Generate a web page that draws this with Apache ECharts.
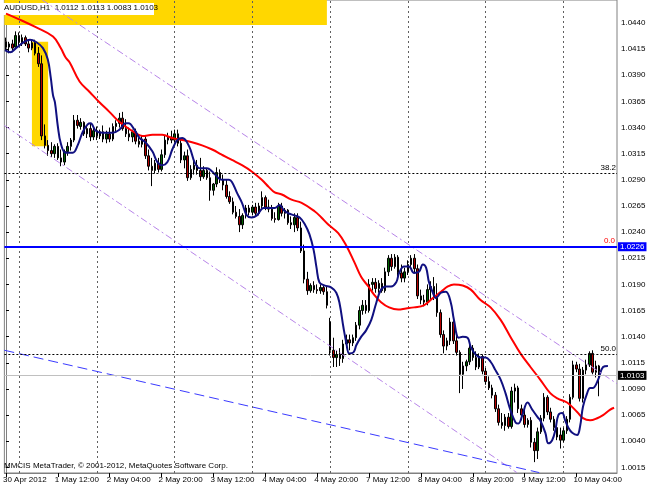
<!DOCTYPE html>
<html><head><meta charset="utf-8">
<script src="https://cdn.jsdelivr.net/npm/echarts@6/dist/echarts.min.js"></script>
<style>html,body{margin:0;padding:0;background:#fff}#c{width:650px;height:488px}</style>
</head><body><div id="c"></div>
<script>
// ---- time axis ----
const days = ['30 Apr','1 May','2 May','3 May','4 May','7 May','8 May','9 May','10 May'];
const dayFirstHour = [20,0,0,0,0,0,0,0,0];
const dayLastHour  = [23,23,23,23,23,23,23,23,16]; // last day includes empty "shift" slots
const timeLabelIdx  = [0,16,32,48,64,80,96,112,128,144,160,176];
const timeLabelText = ['30 Apr 2012','1 May 12:00','2 May 04:00','2 May 20:00','3 May 12:00','4 May 04:00','4 May 20:00','7 May 12:00','8 May 04:00','8 May 20:00','9 May 12:00','10 May 04:00'];
const dayStartIdx = [4,28,52,76,100,124,148,172];
const priceTicks = [1.0015,1.0040,1.0065,1.0090,1.0115,1.0140,1.0165,1.0190,1.0215,1.0240,1.0265,1.0290,1.0315,1.0340,1.0365,1.0390,1.0415,1.0440];
const symbolName = 'AUDUSD,H1';

// ---- candles (H1) ----
const opens = [1.0422,1.0417,1.0420,1.0417,1.0428,1.0421,1.0426,1.0420,1.0416,1.0421,
1.0411,1.0401,1.0332,1.0323,1.0318,1.0315,1.0322,1.0311,1.0307,1.0317,
1.0322,1.0328,1.0347,1.0341,1.0345,1.0334,1.0339,1.0331,1.0337,1.0332,
1.0336,1.0329,1.0334,1.0329,1.0341,1.0344,1.0349,1.0339,1.0334,1.0331,
1.0336,1.0327,1.0324,1.0329,1.0313,1.0303,1.0299,1.0306,1.0300,1.0314,
1.0328,1.0331,1.0328,1.0334,1.0325,1.0309,1.0313,1.0292,1.0300,1.0304,
1.0299,1.0293,1.0299,1.0292,1.0280,1.0286,1.0297,1.0290,1.0285,1.0274,
1.0269,1.0259,1.0255,1.0247,1.0256,1.0263,1.0259,1.0264,1.0258,1.0265,
1.0273,1.0264,1.0262,1.0253,1.0252,1.0265,1.0258,1.0261,1.0249,1.0247,
1.0254,1.0244,1.0222,1.0195,1.0184,1.0189,1.0185,1.0184,1.0187,1.0183,
1.0154,1.0127,1.0120,1.0123,1.0119,1.0133,1.0137,1.0134,1.0139,1.0151,
1.0165,1.0170,1.0165,1.0190,1.0192,1.0186,1.0191,1.0184,1.0202,1.0215,
1.0207,1.0216,1.0201,1.0196,1.0202,1.0209,1.0215,1.0205,1.0179,1.0175,
1.0173,1.0185,1.0188,1.0178,1.0163,1.0142,1.0131,1.0136,1.0154,1.0136,
1.0125,1.0104,1.0112,1.0116,1.0129,1.0120,1.0111,1.0121,1.0107,1.0097,
1.0091,1.0084,1.0071,1.0058,1.0055,1.0063,1.0054,1.0088,1.0091,1.0071,
1.0065,1.0056,1.0060,1.0039,1.0031,1.0049,1.0062,1.0082,1.0068,1.0061,
1.0053,1.0046,1.0041,1.0050,1.0061,1.0082,1.0113,1.0109,1.0081,1.0108,
1.0113,1.0124,1.0106,1.0112];
const closes = [1.0417,1.0420,1.0416,1.0428,1.0422,1.0426,1.0420,1.0416,1.0421,1.0411,
1.0401,1.0332,1.0323,1.0318,1.0315,1.0322,1.0311,1.0307,1.0317,1.0322,
1.0328,1.0347,1.0342,1.0345,1.0334,1.0339,1.0331,1.0337,1.0332,1.0336,
1.0329,1.0334,1.0329,1.0341,1.0344,1.0349,1.0339,1.0334,1.0331,1.0336,
1.0327,1.0324,1.0329,1.0313,1.0303,1.0299,1.0306,1.0300,1.0314,1.0328,
1.0331,1.0328,1.0334,1.0325,1.0309,1.0313,1.0292,1.0300,1.0304,1.0299,
1.0293,1.0299,1.0292,1.0280,1.0286,1.0297,1.0290,1.0285,1.0274,1.0269,
1.0259,1.0255,1.0247,1.0256,1.0263,1.0259,1.0264,1.0258,1.0265,1.0273,
1.0264,1.0262,1.0253,1.0252,1.0265,1.0258,1.0261,1.0249,1.0247,1.0254,
1.0244,1.0222,1.0195,1.0184,1.0189,1.0185,1.0184,1.0187,1.0183,1.0170,
1.0127,1.0120,1.0123,1.0119,1.0133,1.0137,1.0134,1.0139,1.0151,1.0165,
1.0170,1.0165,1.0190,1.0192,1.0186,1.0191,1.0184,1.0202,1.0215,1.0207,
1.0216,1.0201,1.0196,1.0202,1.0209,1.0215,1.0205,1.0179,1.0175,1.0173,
1.0185,1.0188,1.0178,1.0163,1.0142,1.0131,1.0136,1.0154,1.0136,1.0125,
1.0104,1.0112,1.0116,1.0129,1.0120,1.0111,1.0121,1.0107,1.0097,1.0091,
1.0084,1.0071,1.0058,1.0055,1.0063,1.0054,1.0088,1.0091,1.0071,1.0065,
1.0056,1.0060,1.0039,1.0031,1.0049,1.0062,1.0082,1.0068,1.0061,1.0053,
1.0044,1.0041,1.0050,1.0061,1.0082,1.0113,1.0109,1.0081,1.0108,1.0113,
1.0124,1.0106,1.0112,1.0103];
const lows = [1.0414,1.0411,1.0414,1.0415,1.0419,1.0418,1.0418,1.0412,1.0414,1.0409,
1.0398,1.0328,1.0320,1.0313,1.0312,1.0311,1.0309,1.0303,1.0304,1.0313,
1.0318,1.0326,1.0339,1.0338,1.0332,1.0330,1.0327,1.0328,1.0328,1.0329,
1.0326,1.0325,1.0326,1.0327,1.0336,1.0340,1.0337,1.0331,1.0327,1.0326,
1.0324,1.0321,1.0321,1.0310,1.0299,1.0284,1.0296,1.0297,1.0298,1.0311,
1.0324,1.0325,1.0326,1.0322,1.0306,1.0301,1.0289,1.0290,1.0295,1.0295,
1.0289,1.0291,1.0290,1.0270,1.0275,1.0283,1.0287,1.0280,1.0272,1.0267,
1.0257,1.0253,1.0240,1.0243,1.0253,1.0256,1.0256,1.0255,1.0256,1.0262,
1.0261,1.0259,1.0251,1.0249,1.0251,1.0255,1.0253,1.0247,1.0243,1.0240,
1.0241,1.0220,1.0191,1.0180,1.0182,1.0182,1.0181,1.0181,1.0180,1.0167,
1.0122,1.0111,1.0111,1.0112,1.0115,1.0129,1.0127,1.0131,1.0136,1.0147,
1.0161,1.0162,1.0163,1.0184,1.0182,1.0182,1.0182,1.0182,1.0198,1.0203,
1.0205,1.0198,1.0192,1.0192,1.0199,1.0205,1.0201,1.0176,1.0171,1.0169,
1.0170,1.0175,1.0175,1.0159,1.0139,1.0124,1.0127,1.0132,1.0133,1.0122,
1.0086,1.0090,1.0107,1.0113,1.0117,1.0108,1.0109,1.0104,1.0094,1.0089,
1.0081,1.0068,1.0055,1.0052,1.0050,1.0052,1.0052,1.0077,1.0067,1.0060,
1.0053,1.0053,1.0034,1.0020,1.0023,1.0047,1.0059,1.0065,1.0058,1.0050,
1.0041,1.0033,1.0039,1.0047,1.0058,1.0080,1.0106,1.0078,1.0077,1.0104,
1.0111,1.0104,1.0101,1.0083];
const highs = [1.0426,1.0422,1.0424,1.0432,1.0431,1.0429,1.0428,1.0424,1.0423,1.0424,
1.0417,1.0409,1.0343,1.0328,1.0326,1.0324,1.0325,1.0319,1.0319,1.0326,
1.0330,1.0352,1.0352,1.0349,1.0346,1.0342,1.0344,1.0340,1.0341,1.0338,
1.0342,1.0337,1.0340,1.0344,1.0347,1.0354,1.0355,1.0348,1.0340,1.0338,
1.0339,1.0333,1.0332,1.0332,1.0319,1.0311,1.0309,1.0311,1.0319,1.0332,
1.0335,1.0337,1.0338,1.0338,1.0329,1.0317,1.0319,1.0304,1.0309,1.0309,
1.0311,1.0303,1.0301,1.0298,1.0287,1.0302,1.0300,1.0295,1.0290,1.0279,
1.0273,1.0265,1.0262,1.0258,1.0266,1.0266,1.0266,1.0268,1.0268,1.0279,
1.0275,1.0271,1.0266,1.0259,1.0268,1.0268,1.0263,1.0262,1.0255,1.0258,
1.0258,1.0250,1.0228,1.0202,1.0191,1.0193,1.0190,1.0190,1.0189,1.0188,
1.0158,1.0139,1.0127,1.0129,1.0137,1.0142,1.0142,1.0142,1.0154,1.0169,
1.0175,1.0175,1.0195,1.0196,1.0196,1.0194,1.0196,1.0206,1.0218,1.0219,
1.0219,1.0218,1.0209,1.0206,1.0213,1.0218,1.0219,1.0209,1.0185,1.0180,
1.0190,1.0193,1.0197,1.0191,1.0166,1.0146,1.0139,1.0158,1.0158,1.0141,
1.0127,1.0116,1.0118,1.0132,1.0132,1.0126,1.0124,1.0123,1.0110,1.0102,
1.0094,1.0087,1.0075,1.0067,1.0066,1.0067,1.0092,1.0095,1.0093,1.0075,
1.0072,1.0062,1.0063,1.0043,1.0053,1.0065,1.0086,1.0084,1.0072,1.0064,
1.0055,1.0053,1.0053,1.0064,1.0085,1.0117,1.0116,1.0114,1.0111,1.0118,
1.0126,1.0127,1.0117,1.0113];

// ---- moving averages at bar positions ----
const maSlowBar = [0,3.7,9.2,14.5,16.9,18.4,19.7,22.7,25.8,28.9,31.9,34.4,36.9,39.9,42.1,45.2,48.2,51.3,54.4,57.4,60.5,63.6,66.6,69.7,72.8,75.8,78.9,81.1,82.9,85.1,88.1,91.2,95.2,97.3,99.5,102.5,105,107.5,109.6,111.8,113.6,115.7,118.2,121,123.4,125.9,128.9,131.7,134.2,136.3,138.2,140.9,143.4,146.4,149.5,152.6,155.6,158.7,161.8,164.8,167.9,170.1,173.1,176.2,178,180.2,182.4,184.2,186.3,187.6];
const maSlowVal = [1.0449,1.0444,1.0436,1.0427,1.0416,1.0407,1.0402,1.0384,1.0374,1.0364,1.0355,1.0347,1.0341,1.0335,1.0332,1.0333,1.0333,1.0330,1.0328,1.0326,1.0323,1.0319,1.0314,1.0309,1.0304,1.0298,1.0290,1.0283,1.0278,1.0276,1.0271,1.0268,1.0260,1.0254,1.0247,1.0239,1.0227,1.0211,1.0197,1.0188,1.0180,1.0173,1.0168,1.0166,1.0167,1.0168,1.0170,1.0177,1.0183,1.0188,1.0190,1.0189,1.0185,1.0175,1.0168,1.0156,1.0140,1.0124,1.0111,1.0099,1.0086,1.0081,1.0077,1.0068,1.0062,1.0060,1.0062,1.0065,1.0070,1.0072];
const maFastBar = [-0.3,1.3,3.1,5.2,7.4,9.2,11.4,12.9,13.8,14.5,15.1,16,16.9,18.4,20.6,22.1,23.7,25.2,26.1,27.7,29.8,32.9,35,36.9,37.8,39.6,41.2,43,45.2,46.7,48.2,49.8,51.3,52.8,54.4,56.5,58.3,59.9,62,63.6,64.5,66.6,68.8,69.7,71.2,72.8,74.3,75.8,77.4,79.5,81.4,82.9,84.4,85.7,87.2,89,90.6,92.1,93.6,94.9,95.8,96.7,98.2,100.4,101.9,102.9,104.1,105,105.9,107.2,108.1,109.6,111.1,112.7,114.2,115.7,117.3,118.8,120.4,121.3,122.8,124.3,125.9,127.4,128.6,129.6,130.5,131.7,132.6,134.2,135.7,137.2,138.2,139.7,140.9,142.4,143.4,144.9,146.4,148,149.5,151,152.6,154.1,155.6,157.2,158.1,159.3,160.9,162.4,164,164.8,166.4,167.3,168.5,169.5,170.4,171.6,172.5,173.5,174.7,176.2,177.1,178,179.3,180.2,181.1,182.7,184.2,185.7];
const maFastVal = [1.0414,1.0412,1.0416,1.0421,1.0424,1.0422,1.0416,1.0405,1.0388,1.0371,1.0364,1.0341,1.0325,1.0316,1.0316,1.0323,1.0336,1.0343,1.0344,1.0337,1.0335,1.0335,1.0338,1.0344,1.0344,1.0338,1.0330,1.0326,1.0317,1.0307,1.0304,1.0307,1.0319,1.0328,1.0330,1.0322,1.0306,1.0301,1.0301,1.0298,1.0295,1.0290,1.0290,1.0288,1.0278,1.0268,1.0256,1.0254,1.0256,1.0263,1.0263,1.0263,1.0266,1.0261,1.0258,1.0256,1.0254,1.0248,1.0238,1.0223,1.0206,1.0192,1.0189,1.0187,1.0182,1.0172,1.0149,1.0134,1.0124,1.0125,1.0132,1.0140,1.0146,1.0156,1.0172,1.0185,1.0188,1.0188,1.0192,1.0201,1.0207,1.0207,1.0201,1.0202,1.0209,1.0206,1.0192,1.0182,1.0177,1.0182,1.0183,1.0173,1.0156,1.0139,1.0140,1.0139,1.0130,1.0123,1.0120,1.0120,1.0116,1.0108,1.0099,1.0086,1.0070,1.0058,1.0057,1.0065,1.0077,1.0070,1.0063,1.0060,1.0048,1.0038,1.0041,1.0051,1.0065,1.0067,1.0060,1.0053,1.0048,1.0046,1.0054,1.0073,1.0086,1.0091,1.0091,1.0099,1.0111,1.0112];

// ---- drawn objects (bar index, price) ----
const channelTop = [[11.2,1.0462],[188.5,1.0095]];
const channelBottom = [[-0.5,1.0342],[157.6,1.0010]];
const blueTrend = [[-0.5,1.0127],[164.5,1.0010]];
const rectFrom = [[-0.5,1.0462],[8,1.0422]];
const rectTo   = [[99,1.0438],[13,1.0322]];
const fibLevels = ['38.2','50.0'];
const fibPrices = [1.02965,1.01234];
const zeroLevelPrice = 1.0226;
const blueLinePrice = 1.0226;
const bidPrice = 1.0103;

const FONT = '"Liberation Sans", Arial, sans-serif';
const categories = [];
days.forEach((d,k)=>{ for(let h=dayFirstHour[k]; h<=dayLastHour[k]; h++) categories.push(d+' '+String(h).padStart(2,'0')+':00'); });
const candles = opens.map((o,i)=>[o, closes[i], lows[i], highs[i]]);
const last = opens.length-1;
const header = symbolName+'  '+[opens[last],highs[last],lows[last],closes[last]].map(v=>v.toFixed(4)).join(' ');
const isLabel = (i)=> timeLabelIdx.indexOf(i) >= 0;

const chart = echarts.init(document.getElementById('c'));
chart.setOption({
  animation:false,
  backgroundColor:'#fff',
  grid:{left:1.5, right:33, top:0, bottom:15, show:true, borderColor:'#808080', borderWidth:1},
  xAxis:[{
    type:'category', data:categories, boundaryGap:true,
    axisLine:{show:true, lineStyle:{color:'#808080', width:1}},
    axisTick:{show:true, interval:(i)=>isLabel(i), alignWithLabel:true, length:4, lineStyle:{color:'#000'}},
    axisLabel:{interval:(i)=>isLabel(i), formatter:(v,i)=>timeLabelText[timeLabelIdx.indexOf(i)], align:'left', margin:3, fontSize:8, fontFamily:FONT, color:'#000', padding:[0,0,0,-3]},
    splitLine:{show:false}
  },{
    type:'value', min:-0.5, max:categories.length-0.5, show:false
  }],
  yAxis:{
    type:'value', position:'right', min:1.00096, max:1.04620, scale:true,
    axisLine:{show:true, lineStyle:{color:'#808080'}},
    axisTick:{show:true, customValues:priceTicks, length:3, lineStyle:{color:'#000'}},
    axisLabel:{customValues:priceTicks, formatter:(v)=>v.toFixed(4), fontSize:8, fontFamily:FONT, color:'#000', margin:4},
    splitLine:{show:false}
  },
  graphic:[
    {type:'rect', left:2, top:3, shape:{width:152, height:12}, style:{fill:'#fff'}, z:2},
    {type:'text', left:4, top:4, style:{text:header, font:'8px '+FONT, fill:'#000'}, z:2},
    {type:'text', left:4, top:462, style:{text:'MMCIS MetaTrader, \u00a9 2001-2012, MetaQuotes Software Corp.', font:'8px '+FONT, fill:'#000'}, z:2}
  ],
  series:[
    {type:'candlestick', data:candles, z:4, barWidth:2,
     itemStyle:{color:'#006400', color0:'#b40000', borderColor:'#000', borderColor0:'#000', borderWidth:1}},
    {type:'line', name:'slow', xAxisIndex:1, data:maSlowBar.map((x,i)=>[x,maSlowVal[i]]), smooth:0.4, showSymbol:false, z:5,
     lineStyle:{color:'#ff0000', width:2},
     markArea:{silent:true, z:1, itemStyle:{color:'#ffd700'}, data: rectFrom.map((a,k)=>[{coord:a},{coord:rectTo[k]}])},
     markLine:{silent:true, z:3, precision:5, symbol:['none','none'], label:{show:false}, lineStyle:{color:'#606060', type:[2,3], width:1},
       data: dayStartIdx.map(i=>({xAxis:i}))}},
    {type:'line', name:'fast', xAxisIndex:1, data:maFastBar.map((x,i)=>[x,maFastVal[i]]), smooth:0.4, showSymbol:false, z:5,
     lineStyle:{color:'#101080', width:2},
     markLine:{silent:true, z:7, precision:5, symbol:['none','none'],
       data:[
         ...fibLevels.map((t,k)=>({yAxis:fibPrices[k], lineStyle:{color:'#000', type:[2,2], width:1},
            label:{show:true, position:'insideEndTop', formatter:t, color:'#000', fontSize:8, fontFamily:FONT, distance:1}})),
         {yAxis:blueLinePrice, lineStyle:{color:'#0000ff', width:2, type:'solid'},
            label:{show:true, position:'end', formatter:(p)=>Number(p.value).toFixed(4), color:'#fff', backgroundColor:'#0000ff', padding:[1,2,0,2], fontSize:8, fontFamily:FONT, distance:1}},
         {yAxis:zeroLevelPrice, lineStyle:{color:'rgba(0,0,0,0)', width:1, type:'solid'},
            label:{show:true, position:'insideEndTop', formatter:'0.0', color:'#ff0000', fontSize:8, fontFamily:FONT, distance:2}},
         {yAxis:bidPrice, lineStyle:{color:'#c0c0c0', width:1, type:'solid'},
            label:{show:true, position:'end', formatter:(p)=>Number(p.value).toFixed(4), color:'#fff', backgroundColor:'#000', padding:[1,2,0,2], fontSize:8, fontFamily:FONT, distance:1}}
       ]}},
    {type:'line', xAxisIndex:1, data:channelTop, showSymbol:false, z:6, lineStyle:{color:'#b784e8', width:1, type:[7,3,2,3]}},
    {type:'line', xAxisIndex:1, data:channelBottom, showSymbol:false, z:6, lineStyle:{color:'#b784e8', width:1, type:[7,3,2,3]}},
    {type:'line', xAxisIndex:1, data:blueTrend, showSymbol:false, z:6, lineStyle:{color:'#3a3aff', width:1, type:[10,5]}}
  ]
});
</script></body></html>
